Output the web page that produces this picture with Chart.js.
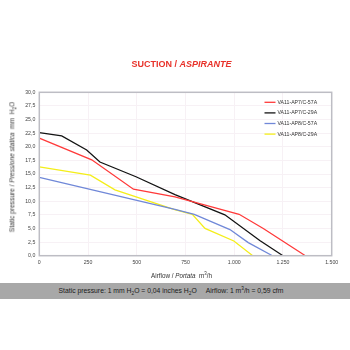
<!DOCTYPE html>
<html><head><meta charset="utf-8">
<script src="https://cdn.jsdelivr.net/npm/chart.js@4"></script>
<style>
html,body{margin:0;padding:0;background:#fff;}
#wrap{position:relative;width:350px;height:350px;overflow:hidden;font-family:"Liberation Sans",Arial,sans-serif;}
#c{position:absolute;left:0;top:0;}
.t{position:absolute;white-space:nowrap;}
#title{left:0;width:363px;top:57px;text-align:center;color:#e8322a;font-weight:bold;font-size:9px;line-height:14px;}
#ytitle{left:11.5px;top:167px;transform:translate(-50%,-50%) rotate(-90deg);font-size:6.6px;color:#333;}
#xtitle{left:0;width:363px;top:272px;text-align:center;font-size:6.3px;color:#333;}
#band{position:absolute;left:0;top:283px;width:350px;height:16px;background:#a8a8a8;}
#btext{left:0;width:342px;top:286.5px;text-align:center;font-size:6.8px;color:#1a1a1a;}
sub,sup{font-size:70%;line-height:0;}
</style></head>
<body>
<div id="wrap">
<canvas id="c" width="350" height="350"></canvas>
<div class="t" id="title">SUCTION / <i>ASPIRANTE</i></div>
<div class="t" id="ytitle">Static pressure / <i>Pressione statica</i>&nbsp; mm&nbsp; H<sub>2</sub>O</div>
<div class="t" id="xtitle">Airflow / <i>Portata</i>&nbsp; m<sup>3</sup>/h</div>
<div id="band"></div>
<div class="t" id="btext">Static pressure: 1 mm H<sub>2</sub>O = 0,04 inches H<sub>2</sub>O &nbsp; &nbsp; Airflow: 1 m<sup>3</sup>/h = 0,59 cfm</div>
</div>
<script>
const seriesNames = ["VA11-AP7/C-57A","VA11-AP7/C-29A","VA11-AP8/C-57A","VA11-AP8/C-29A"];
const redFlow = [0,269,483,696,1025,1149,1365];
const redPress = [21.6,17.6,12.2,10.8,7.6,5.0,0];
const blackFlow = [0,115,243,311,496,696,952,1131,1250];
const blackPress = [22.6,22.0,19.4,17.2,14.5,11.2,7.5,2.8,0];
const blueFlow = [0,696,795,978,1072,1196];
const bluePress = [14.4,8.5,7.6,4.8,2.4,0];
const yellowFlow = [0,262,388,690,785,850,998,1095];
const yellowPress = [16.3,14.8,12.1,8.5,7.6,5.0,2.7,0];
const yTicks = [0,2.5,5,7.5,10,12.5,15,17.5,20,22.5,25,27.5,30];
const xTicks = [0,250,500,750,1000,1250,1500];

function pts(xs, ys){ return xs.map((x,i)=>({x:x,y:ys[i]})); }
const colors = ["#ff3a3a","#141414","#7088d8","#f4ee1a"];
const datasets = [
  {label:seriesNames[0], data:pts(redFlow,redPress)},
  {label:seriesNames[1], data:pts(blackFlow,blackPress)},
  {label:seriesNames[2], data:pts(blueFlow,bluePress)},
  {label:seriesNames[3], data:pts(yellowFlow,yellowPress)}
].map((d,i)=>Object.assign(d,{borderColor:colors[i],backgroundColor:colors[i],borderWidth:1.3,pointRadius:0,tension:0,fill:false}));

const framePlugin = {
  id:'frame',
  afterDraw(chart){
    const ctx = chart.ctx, a = chart.chartArea;
    ctx.save();
    ctx.strokeStyle = '#bdbdc4';
    ctx.lineWidth = 1.5;
    ctx.strokeRect(a.left, a.top, a.right-a.left, a.bottom-a.top);
    ctx.font = '5.2px "Liberation Sans", Arial, sans-serif';
    ctx.textBaseline = 'middle';
    ctx.fillStyle = '#333';
    chart.data.datasets.forEach((d,i)=>{
      const y = 102.3 + i*10.6;
      ctx.strokeStyle = d.borderColor;
      ctx.lineWidth = 1.3;
      ctx.beginPath(); ctx.moveTo(264.5,y); ctx.lineTo(275.5,y); ctx.stroke();
      ctx.fillText(d.label, 277.5, y);
    });
    ctx.restore();
  }
};

new Chart(document.getElementById('c'), {
  type:'line',
  data:{datasets:datasets},
  plugins:[framePlugin],
  options:{
    responsive:false, animation:false,
    layout:{padding:{left:0,top:92.3,right:18.3,bottom:0}},
    plugins:{legend:{display:false},title:{display:false},tooltip:{enabled:false}},
    scales:{
      x:{type:'linear',min:0,max:1500,
        afterFit(s){s.height = 94.3;},
        afterBuildTicks(s){s.ticks = xTicks.map(v=>({value:v}));},
        grid:{color:'#f7f1f5',lineWidth:1,drawTicks:false},
        border:{display:false},
        ticks:{padding:4,color:'#444',font:{size:5.2,family:'"Liberation Sans", Arial, sans-serif'},maxRotation:0,
          callback:v=>v>=1000?(Math.floor(v/1000)+'.'+String(v%1000).padStart(3,'0')):String(v)}
      },
      y:{type:'linear',min:0,max:30,
        afterFit(s){s.width = 39.3;},
        afterBuildTicks(s){s.ticks = yTicks.map(v=>({value:v}));},
        grid:{color:'#f7f1f5',lineWidth:1,drawTicks:false},
        border:{display:false},
        ticks:{padding:4,color:'#444',font:{size:5.2,family:'"Liberation Sans", Arial, sans-serif'},
          callback:v=>v.toFixed(1).replace('.',',')}
      }
    }
  }
});
</script>
</body></html>
